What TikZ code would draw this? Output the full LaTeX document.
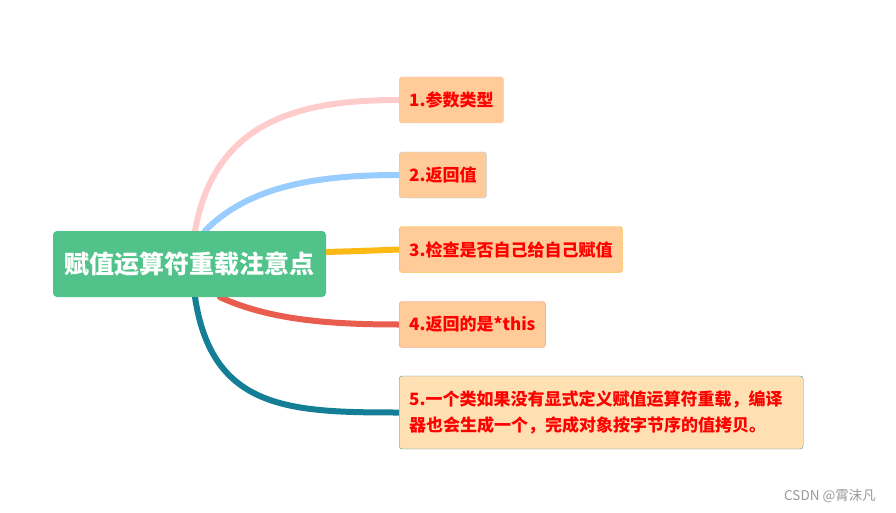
\documentclass[tikz,border=0pt]{standalone}
\usepackage{fontspec}
\setmainfont{Noto Sans CJK SC}
\usetikzlibrary{backgrounds}
\definecolor{rootgreen}{RGB}{80,194,138}
\definecolor{leafpeach}{RGB}{255,204,153}
\definecolor{leaflight}{RGB}{255,224,178}
\definecolor{pinkline}{RGB}{255,204,204}
\definecolor{blueline}{RGB}{153,204,255}
\definecolor{orangeline}{RGB}{252,184,19}
\definecolor{redline}{RGB}{233,93,79}
\definecolor{tealline}{RGB}{20,126,150}
\begin{document}
\begin{tikzpicture}[x=1pt, y=-1pt,
  topic/.style={fill=rootgreen, rounded corners=4pt, minimum width=273pt, minimum height=66pt,
    text=white, font=\bfseries\fontsize{25}{30}\selectfont},
  leaf/.style={draw, fill=leafpeach, rounded corners=3pt, anchor=west, minimum height=46pt,
    inner xsep=10pt, text=red, font=\bfseries\fontsize{17}{26}\selectfont},
  branch/.style={line width=6pt, line cap=round}]
  \useasboundingbox (0,0) rectangle (896,513);
  \node[topic] (root) at (189.5,264) {赋值运算符重载注意点};

  \node[leaf, draw=pinkline!90!red] (p1) at (399,100) {1.参数类型};
  \node[leaf, draw=blueline] (p2) at (399,175) {2.返回值};
  \node[leaf, draw=orangeline] (p3) at (399,249.5) {3.检查是否自己给自己赋值};
  \node[leaf, draw=redline!70] (p4) at (399,324.5) {4.返回的是*this};
  \node[leaf, draw=tealline!80, fill=leaflight, minimum height=73pt, text width=384pt, align=left]
    (p5) at (399,412.5) {5.一个类如果没有显式定义赋值运算符重载，编译\\器也会生成一个，完成对象按字节序的值拷贝。};

  \begin{pgfonlayer}{background}
    \draw[branch, pinkline] ([xshift=5.5pt]root.north) .. controls (215,120) and (300,100) .. (p1.west);
    \draw[branch, blueline] ([xshift=15.5pt]root.north) .. controls (250,185) and (320,175) .. (p2.west);
    \draw[branch, orangeline] ([yshift=12pt]root.east) .. controls (360,251) .. (p3.west);
    \draw[branch, redline] ([xshift=30.5pt]root.south) .. controls (270,320) and (330,324.5) .. (p4.west);
    \draw[branch, tealline] ([xshift=5.5pt]root.south) .. controls (212,410) and (290,412.5) .. (p5.west);
  \end{pgfonlayer}

  \node[text=gray!80, font=\fontsize{13.5}{15}\selectfont] (mark) at (830,496) {CSDN @霄沫凡};
\end{tikzpicture}
\end{document}
